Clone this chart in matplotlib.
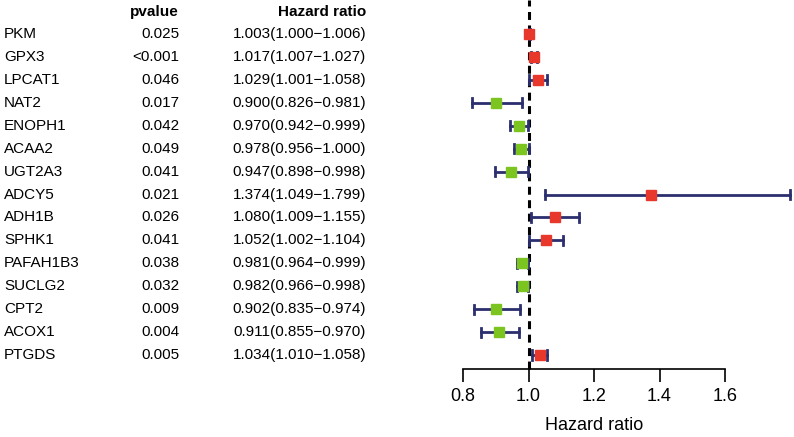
import matplotlib
matplotlib.use("Agg")
import matplotlib.pyplot as plt
import matplotlib.transforms as mtransforms

plt.rcParams['font.family'] = ['Liberation Sans', 'DejaVu Sans']

genes = ["PKM", "GPX3", "LPCAT1", "NAT2", "ENOPH1", "ACAA2", "UGT2A3", "ADCY5",
         "ADH1B", "SPHK1", "PAFAH1B3", "SUCLG2", "CPT2", "ACOX1", "PTGDS"]
pvalues = ["0.025", "<0.001", "0.046", "0.017", "0.042", "0.049", "0.041", "0.021",
           "0.026", "0.041", "0.038", "0.032", "0.009", "0.004", "0.005"]
hr = [1.003, 1.017, 1.029, 0.900, 0.970, 0.978, 0.947, 1.374,
      1.080, 1.052, 0.981, 0.982, 0.902, 0.911, 1.034]
hr_low = [1.000, 1.007, 1.001, 0.826, 0.942, 0.956, 0.898, 1.049,
          1.009, 1.002, 0.964, 0.966, 0.835, 0.855, 1.010]
hr_high = [1.006, 1.027, 1.058, 0.981, 0.999, 1.000, 0.998, 1.799,
           1.155, 1.104, 0.999, 0.998, 0.974, 0.970, 1.058]
xticks = [0.8, 1.0, 1.2, 1.4, 1.6]

W, H = 794, 437
fig = plt.figure(figsize=(W / 100, H / 100), dpi=100)

# forest axes: x 0.8 at px 463, 1.6 at px 725; bottom axis at px 369
row0, step = 34, 22.93
ax = fig.add_axes([463 / W, 1 - 369 / H, (725 - 463) / W, 369 / H])
ax.set_xlim(0.8, 1.6)
ax.set_ylim((369 - row0) / step, -row0 / step)

for s in ["top", "right", "left"]:
    ax.spines[s].set_visible(False)
ax.spines["bottom"].set_linewidth(1.2)
ax.set_yticks([])
ax.set_xticks(xticks)
ax.set_xticklabels([f"{t:.1f}" for t in xticks], fontsize=13)
ax.tick_params(axis="x", length=9, width=1.2, pad=5)
ax.set_xlabel("Hazard ratio", fontsize=13, labelpad=8)

ax.plot([1, 1], [ax.get_ylim()[0], ax.get_ylim()[1]], color="black",
        lw=2.2, ls=(0, (2.6, 1.8)), zorder=1, clip_on=False)

navy = "#2b2f6e"
for i in range(len(genes)):
    ax.plot([hr_low[i], hr_high[i]], [i, i], color=navy, lw=2, zorder=2, clip_on=False)
    for e in (hr_low[i], hr_high[i]):
        ax.plot([e, e], [i - 0.2, i + 0.2], color=navy, lw=2, zorder=2, clip_on=False)
    col = "#e8372b" if hr[i] > 1 else "#7cc520"
    ax.plot(hr[i], i, marker="s", ms=7.6, color=col, mec=col, zorder=3, clip_on=False)

# text table, x in figure fraction, y in row units
tr = mtransforms.blended_transform_factory(fig.transFigure, ax.transData)
fs = 11
hdr_y = (12 - row0) / step
ax.text(179 / W, hdr_y, "pvalue", transform=tr, ha="right", va="center",
        fontsize=fs, fontweight="bold")
ax.text(366 / W, hdr_y, "Hazard ratio", transform=tr, ha="right", va="center",
        fontsize=fs, fontweight="bold")
for i in range(len(genes)):
    ax.text(4 / W, i, genes[i], transform=tr, ha="left", va="center", fontsize=fs)
    ax.text(179 / W, i, pvalues[i], transform=tr, ha="right", va="center", fontsize=fs)
    ax.text(366 / W, i, f"{hr[i]:.3f}({hr_low[i]:.3f}\u2212{hr_high[i]:.3f})",
            transform=tr, ha="right", va="center", fontsize=fs)

fig.savefig("out.png", dpi=100)
